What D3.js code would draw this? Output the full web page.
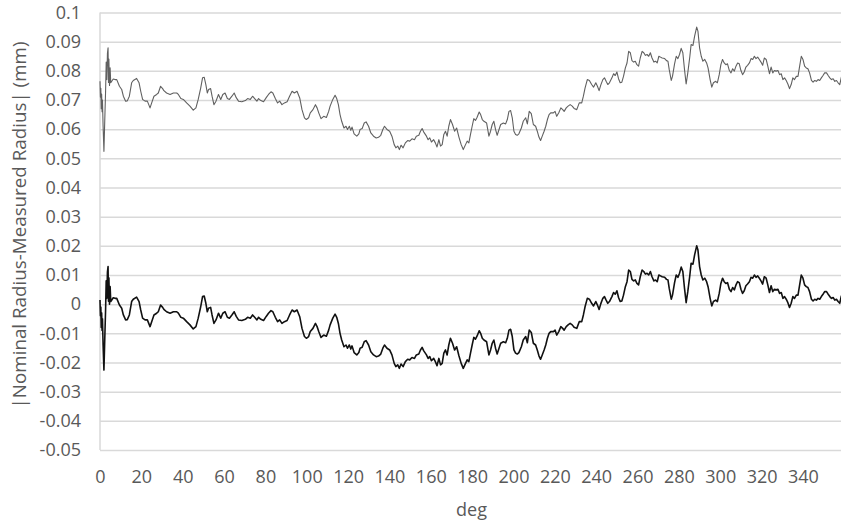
<!DOCTYPE html>
<html>
<head>
<meta charset="utf-8">
<script src="https://cdn.jsdelivr.net/npm/d3@7"></script>
<style>
  body { margin: 0; background: #fff; }
  svg { display: block; font-family: "Open Sans", sans-serif; }
</style>
</head>
<body>
<svg id="svg" width="841" height="527"></svg>
<script>
// angle (deg) for every sample, shared by both traces
let angles = [
  0, 0.2, 0.4, 0.6, 0.8, 1.0, 1.2, 1.5, 1.9, 2.3, 2.7, 3.0, 3.3, 3.6, 3.9, 4.1, 4.3, 4.6, 4.9, 5.2, 6.4, 7.3,
  8.1, 9.4, 10.5, 11.3, 12.4, 13.2, 14.2, 15.3, 16.1, 17.7, 18.9, 19.7, 20.6, 21.8, 22.9, 24.2, 25.0, 26.1, 27.4, 28.2,
  29.3, 30.3, 30.9, 32.2, 33.9, 35.5, 37.1, 37.9, 39.1, 40.3, 41.9, 43.5, 45.1, 46.4, 47.5, 48.7, 49.6, 50.4, 51.2, 51.9,
  52.5, 53.5, 54.2, 55.1, 56.1, 57.3, 58.4, 59.4, 60.5, 61.6, 62.6, 63.8, 64.9, 65.9, 67.0, 68.6, 70.3, 71.4, 72.7, 73.8,
  74.8, 75.9, 76.7, 77.8, 79.1, 80.4, 81.5, 82.7, 83.6, 84.8, 85.9, 86.9, 88.0, 89.2, 90.5, 91.7, 92.9, 94.0, 95.3, 96.6,
  97.7, 98.9, 99.8, 100.9, 101.7, 103.0, 104.2, 105.0, 105.8, 106.9, 108.2, 109.5, 110.6,
  111.3, 112.6, 113.7, 114.5, 115.3, 116.1, 116.9, 118.0, 119.0, 119.7, 120.6, 121.3, 121.9, 122.9, 124.2, 125.2, 125.8, 126.8, 127.8, 128.7,
  129.9, 131.0, 132.3, 133.6, 134.7, 135.8, 136.8, 137.6, 138.8, 140.1, 141.2, 142.3, 143.1, 144.0, 144.8, 145.6, 146.6, 147.7, 148.8, 149.8,
  150.9, 152.1, 153.0, 154.2, 155.0, 155.8, 156.6, 157.9, 158.7, 159.5, 160.3, 161.4, 162.2, 163.0, 163.9, 164.7, 165.5, 166.3, 167.1, 167.9,
  168.7, 169.5, 170.5, 171.5, 172.5, 173.6, 174.7, 175.7, 176.8, 177.6, 178.4, 179.2, 180.0, 180.8, 181.6, 182.4, 183.4, 184.1, 184.9, 185.7,
  187.0, 188.1, 188.9, 189.7, 190.5, 191.3, 192.1, 193.0, 193.8, 195.1, 196.2, 197.0, 197.8, 198.6, 199.4, 200.2, 201.0, 201.8, 202.6, 203.8,
  204.7, 205.9, 206.7, 207.6, 208.6, 209.6, 210.7, 211.5, 212.3, 213.1, 213.9, 214.8, 215.6, 216.4, 217.2, 218.0, 219.3, 220.1, 220.9, 221.9,
  222.9, 223.8, 224.5, 225.5, 226.4, 227.4, 228.4, 229.3, 230.6, 231.8,
  233.0, 233.8, 234.6, 235.7, 236.7, 237.8, 238.7, 239.8, 240.6, 241.4, 242.2, 243.2, 244.0, 244.8, 245.6, 246.4, 247.6, 248.4, 249.2, 250.0,
  250.8, 251.6, 252.4, 253.2, 254.1, 254.9, 255.7, 256.5, 257.3, 258.1, 258.9, 259.7, 260.5, 261.3, 262.2, 263.0, 263.8, 264.6, 265.4, 266.2,
  267.0, 267.9, 268.7, 269.5, 270.3, 271.1, 271.9, 273.1, 274.0, 274.7, 275.3, 276.3, 276.9, 277.9, 278.7, 279.5, 280.3, 281.1, 281.9, 282.7,
  283.5, 284.3, 285.3, 285.9, 286.8, 287.6, 288.6, 289.2, 290.0, 290.8, 291.6, 292.5, 293.4, 294.1, 295.1, 295.9, 296.7, 297.8, 298.6, 299.5,
  300.3, 301.1, 301.9, 302.7, 303.5, 304.4, 305.2, 306.0, 306.8, 307.6, 308.4, 309.2, 310.0, 310.8, 311.6, 312.4, 313.2, 314.1, 314.9, 315.7,
  316.5, 317.3, 318.1, 318.9, 319.7, 320.5, 321.3, 322.2, 323.0, 323.8, 324.6, 325.4, 326.2, 327.0, 327.9, 328.7, 329.5, 330.3, 331.1, 331.9,
  332.7, 333.5, 334.3, 335.1, 335.9, 336.8, 337.6, 338.4, 339.2, 340.0, 340.8, 341.6, 342.4, 343.2, 344.1, 344.9, 345.7, 346.5, 347.3, 348.1,
  348.9, 349.7, 350.5, 351.4, 352.2, 353.0, 353.8, 354.6, 355.4, 356.2, 357.0, 357.8, 358.6
];

// |Nominal - Measured| trace, upper (grey)
let upperValues = [
  0.0764, 0.071, 0.074, 0.067, 0.072, 0.066, 0.07, 0.061, 0.0524, 0.063, 0.073, 0.083, 0.077, 0.086, 0.0879, 0.076, 0.084, 0.075, 0.081, 0.0759, 0.0772, 0.077,
  0.077, 0.0747, 0.0736, 0.0713, 0.0696, 0.0697, 0.0713, 0.0759, 0.0767, 0.0774, 0.0759, 0.073, 0.0702, 0.0696, 0.0696, 0.0673, 0.069, 0.0713, 0.0719, 0.0724,
  0.0747, 0.0739, 0.0732, 0.0724, 0.0719, 0.0724, 0.0724, 0.0719, 0.0705, 0.0702, 0.069, 0.0679, 0.0665, 0.0673, 0.0702, 0.0741, 0.0776, 0.0778, 0.0753, 0.0724,
  0.0736, 0.0739, 0.0713, 0.0684, 0.0696, 0.0719, 0.0702, 0.0719, 0.0724, 0.0705, 0.0702, 0.0713, 0.0724, 0.0708, 0.0696, 0.0694, 0.0698, 0.0705, 0.0702, 0.0713,
  0.0705, 0.0696, 0.0705, 0.0698, 0.0694, 0.0708, 0.0719, 0.0728, 0.0724, 0.0705, 0.069, 0.0696, 0.0684, 0.069, 0.0694, 0.0713, 0.073, 0.0724, 0.073, 0.0707,
  0.0667, 0.0639, 0.0633, 0.0639, 0.0656, 0.0667, 0.0684, 0.0673, 0.0656, 0.0636, 0.0644, 0.064, 0.0661,
  0.0679, 0.0702, 0.0716, 0.0705, 0.0684, 0.065, 0.0627, 0.0604, 0.061, 0.0599, 0.061, 0.0596, 0.0607, 0.0584, 0.0576, 0.0584, 0.0599, 0.0602, 0.0621, 0.0625,
  0.061, 0.0587, 0.0576, 0.057, 0.0572, 0.0579, 0.0599, 0.061, 0.0599, 0.0593, 0.0576, 0.0547, 0.0536, 0.0542, 0.053, 0.0545, 0.0536, 0.0553, 0.0561, 0.0559,
  0.0567, 0.0564, 0.0576, 0.0579, 0.0593, 0.0602, 0.059, 0.0576, 0.0564, 0.057, 0.0556, 0.0564, 0.0553, 0.0539, 0.0564, 0.0542, 0.0547, 0.0582, 0.0593, 0.0576,
  0.061, 0.0633, 0.0616, 0.0593, 0.0604, 0.0573, 0.0547, 0.053, 0.0547, 0.0559, 0.0553, 0.0582, 0.061, 0.0636, 0.063, 0.0641, 0.0659, 0.065, 0.0633, 0.0627,
  0.0621, 0.0576, 0.0593, 0.0616, 0.0627, 0.0599, 0.0579, 0.0599, 0.0616, 0.0621, 0.0618, 0.0633, 0.0661, 0.0664, 0.0639, 0.0593, 0.0582, 0.0579, 0.0584, 0.0604,
  0.0627, 0.0639, 0.0618, 0.0661, 0.0653, 0.0616, 0.061, 0.0593, 0.0573, 0.0561, 0.0576, 0.0593, 0.061, 0.0633, 0.065, 0.0656, 0.0656, 0.0661, 0.0644, 0.0656,
  0.0673, 0.0667, 0.0661, 0.0673, 0.0679, 0.0684, 0.0679, 0.0671, 0.0667, 0.069,
  0.069, 0.0713, 0.0741, 0.077, 0.0767, 0.0753, 0.0744, 0.0759, 0.0747, 0.0732, 0.0751, 0.077, 0.0776, 0.0764, 0.0753, 0.0759, 0.0776, 0.079, 0.0784, 0.0796,
  0.0773, 0.0759, 0.0761, 0.0781, 0.081, 0.0827, 0.0867, 0.0862, 0.0835, 0.083, 0.0833, 0.0821, 0.0816, 0.0844, 0.0867, 0.0862, 0.0853, 0.0856, 0.085, 0.0862,
  0.0844, 0.083, 0.0833, 0.0827, 0.085, 0.0847, 0.0844, 0.0842, 0.0835, 0.0833, 0.0805, 0.0767, 0.0781, 0.0824, 0.085, 0.0842, 0.0856, 0.0877, 0.0862, 0.0805,
  0.0755, 0.0793, 0.085, 0.089, 0.0887, 0.0919, 0.095, 0.0936, 0.0879, 0.085, 0.0833, 0.0839, 0.0827, 0.081, 0.077, 0.0744, 0.0759, 0.0764, 0.0759, 0.0787,
  0.0821, 0.0839, 0.0827, 0.0821, 0.0824, 0.0801, 0.0793, 0.0807, 0.0799, 0.0816, 0.0827, 0.0824, 0.0801, 0.0787, 0.0796, 0.0813, 0.0819, 0.0827, 0.0842, 0.0839,
  0.085, 0.0842, 0.0847, 0.0839, 0.083, 0.0819, 0.0844, 0.0839, 0.0816, 0.079, 0.0813, 0.0793, 0.0801, 0.0799, 0.0801, 0.0787, 0.079, 0.077, 0.0776, 0.0767,
  0.0755, 0.0739, 0.0753, 0.0776, 0.077, 0.0781, 0.0781, 0.0816, 0.085, 0.0839, 0.0816, 0.081, 0.0807, 0.0793, 0.0767, 0.0761, 0.0767, 0.0764, 0.077, 0.0767,
  0.0776, 0.0784, 0.0793, 0.0793, 0.0784, 0.0776, 0.077, 0.0773, 0.0764, 0.0767, 0.0759, 0.0753, 0.0779
];

// Nominal - Measured trace, lower (black)
let lowerValues = [
  0.0014, -0.004, -0.001, -0.008, -0.003, -0.009, -0.005, -0.014, -0.0226, -0.012, -0.002, 0.008, 0.002, 0.011, 0.0129, 0.001, 0.009, 0.0, 0.006, 0.0009, 0.0022, 0.002,
  0.002, -0.0003, -0.0014, -0.0037, -0.0054, -0.0053, -0.0037, 0.0009, 0.0017, 0.0024, 0.0009, -0.002, -0.0048, -0.0054, -0.0054, -0.0077, -0.006, -0.0037, -0.0031, -0.0026,
  -0.0003, -0.0011, -0.0018, -0.0026, -0.0031, -0.0026, -0.0026, -0.0031, -0.0045, -0.0048, -0.006, -0.0071, -0.0085, -0.0077, -0.0048, -0.0009, 0.0026, 0.0028, 0.0003, -0.0026,
  -0.0014, -0.0011, -0.0037, -0.0066, -0.0054, -0.0031, -0.0048, -0.0031, -0.0026, -0.0045, -0.0048, -0.0037, -0.0026, -0.0042, -0.0054, -0.0056, -0.0052, -0.0045, -0.0048, -0.0037,
  -0.0045, -0.0054, -0.0045, -0.0052, -0.0056, -0.0042, -0.0031, -0.0022, -0.0026, -0.0045, -0.006, -0.0054, -0.0066, -0.006, -0.0056, -0.0037, -0.002, -0.0026, -0.002, -0.0043,
  -0.0083, -0.0111, -0.0117, -0.0111, -0.0094, -0.0083, -0.0066, -0.0077, -0.0094, -0.0114, -0.0106, -0.011, -0.0089,
  -0.0071, -0.0048, -0.0034, -0.0045, -0.0066, -0.01, -0.0123, -0.0146, -0.014, -0.0151, -0.014, -0.0154, -0.0143, -0.0166, -0.0174, -0.0166, -0.0151, -0.0148, -0.0129, -0.0125,
  -0.014, -0.0163, -0.0174, -0.018, -0.0178, -0.0171, -0.0151, -0.014, -0.0151, -0.0157, -0.0174, -0.0203, -0.0214, -0.0208, -0.022, -0.0205, -0.0214, -0.0197, -0.0189, -0.0191,
  -0.0183, -0.0186, -0.0174, -0.0171, -0.0157, -0.0148, -0.016, -0.0174, -0.0186, -0.018, -0.0194, -0.0186, -0.0197, -0.0211, -0.0186, -0.0208, -0.0203, -0.0168, -0.0157, -0.0174,
  -0.014, -0.0117, -0.0134, -0.0157, -0.0146, -0.0177, -0.0203, -0.022, -0.0203, -0.0191, -0.0197, -0.0168, -0.014, -0.0114, -0.012, -0.0109, -0.0091, -0.01, -0.0117, -0.0123,
  -0.0129, -0.0174, -0.0157, -0.0134, -0.0123, -0.0151, -0.0171, -0.0151, -0.0134, -0.0129, -0.0132, -0.0117, -0.0089, -0.0086, -0.0111, -0.0157, -0.0168, -0.0171, -0.0166, -0.0146,
  -0.0123, -0.0111, -0.0132, -0.0089, -0.0097, -0.0134, -0.014, -0.0157, -0.0177, -0.0189, -0.0174, -0.0157, -0.014, -0.0117, -0.01, -0.0094, -0.0094, -0.0089, -0.0106, -0.0094,
  -0.0077, -0.0083, -0.0089, -0.0077, -0.0071, -0.0066, -0.0071, -0.0079, -0.0083, -0.006,
  -0.006, -0.0037, -0.0009, 0.002, 0.0017, 0.0003, -0.0006, 0.0009, -0.0003, -0.0018, 0.0001, 0.002, 0.0026, 0.0014, 0.0003, 0.0009, 0.0026, 0.004, 0.0034, 0.0046,
  0.0023, 0.0009, 0.0011, 0.0031, 0.006, 0.0077, 0.0117, 0.0112, 0.0085, 0.008, 0.0083, 0.0071, 0.0066, 0.0094, 0.0117, 0.0112, 0.0103, 0.0106, 0.01, 0.0112,
  0.0094, 0.008, 0.0083, 0.0077, 0.01, 0.0097, 0.0094, 0.0092, 0.0085, 0.0083, 0.0055, 0.0017, 0.0031, 0.0074, 0.01, 0.0092, 0.0106, 0.0127, 0.0112, 0.0055,
  0.0005, 0.0043, 0.01, 0.014, 0.0137, 0.0169, 0.02, 0.0186, 0.0129, 0.01, 0.0083, 0.0089, 0.0077, 0.006, 0.002, -0.0006, 0.0009, 0.0014, 0.0009, 0.0037,
  0.0071, 0.0089, 0.0077, 0.0071, 0.0074, 0.0051, 0.0043, 0.0057, 0.0049, 0.0066, 0.0077, 0.0074, 0.0051, 0.0037, 0.0046, 0.0063, 0.0069, 0.0077, 0.0092, 0.0089,
  0.01, 0.0092, 0.0097, 0.0089, 0.008, 0.0069, 0.0094, 0.0089, 0.0066, 0.004, 0.0063, 0.0043, 0.0051, 0.0049, 0.0051, 0.0037, 0.004, 0.002, 0.0026, 0.0017,
  0.0005, -0.0011, 0.0003, 0.0026, 0.002, 0.0031, 0.0031, 0.0066, 0.01, 0.0089, 0.0066, 0.006, 0.0057, 0.0043, 0.0017, 0.0011, 0.0017, 0.0014, 0.002, 0.0017,
  0.0026, 0.0034, 0.0043, 0.0043, 0.0034, 0.0026, 0.002, 0.0023, 0.0014, 0.0017, 0.0009, 0.0003, 0.0029
];

let xTicks = [0, 20, 40, 60, 80, 100, 120, 140, 160, 180, 200, 220, 240, 260, 280, 300, 320, 340];
let yTicks = [0.1, 0.09, 0.08, 0.07, 0.06, 0.05, 0.04, 0.03, 0.02, 0.01, 0, -0.01, -0.02, -0.03, -0.04, -0.05];
let yTickLabels = ["0.1", "0.09", "0.08", "0.07", "0.06", "0.05", "0.04", "0.03", "0.02", "0.01", "0",
                   "-0.01", "-0.02", "-0.03", "-0.04", "-0.05"];

function graph() {
  let svg = d3.select("svg");
  let margin = {top: 12.5, right: 0, bottom: 77, left: 100};
  let width = 841 - margin.left - margin.right;
  let height = 527 - margin.top - margin.bottom;
  let textColor = "#595959";
  let gridColor = "#d9d9d9";

  let g = svg.append("g").attr("transform", "translate(" + margin.left + "," + margin.top + ")");

  let x = d3.scaleLinear().domain([0, 358.4]).range([0, width]);
  let y = d3.scaleLinear().domain([-0.05, 0.1]).range([height, 0]);

  // gridlines + y labels
  let yAxis = g.append("g")
    .call(d3.axisLeft(y)
      .tickValues(yTicks)
      .tickSize(-width)
      .tickPadding(19)
      .tickFormat((d, i) => yTickLabels[i]));
  yAxis.select(".domain").remove();
  yAxis.selectAll(".tick line")
    .attr("stroke", gridColor)
    .attr("stroke-width", 1.5);
  yAxis.selectAll(".tick text")
    .attr("fill", textColor)
    .style("font-size", "18px")
    .style("font-family", "Open Sans, sans-serif");

  // vertical axis line
  g.append("line")
    .attr("x1", 0).attr("x2", 0)
    .attr("y1", 0).attr("y2", height)
    .attr("stroke", gridColor)
    .attr("stroke-width", 1.5);

  let xAxis = g.append("g")
    .attr("transform", "translate(0," + height + ")")
    .call(d3.axisBottom(x).tickValues(xTicks).tickSize(0).tickPadding(20));
  xAxis.select(".domain").remove();
  xAxis.selectAll(".tick text")
    .attr("fill", textColor)
    .style("font-size", "18px")
    .style("font-family", "Open Sans, sans-serif");

  let upper = angles.map((a, i) => ({deg: a, value: upperValues[i]}));
  let lower = angles.map((a, i) => ({deg: a, value: lowerValues[i]}));

  let line = d3.line()
    .x(d => x(d.deg))
    .y(d => y(d.value));

  g.append("path")
   .datum(upper)
   .attr("fill", "none")
   .attr("stroke", "#606060")
   .attr("stroke-linejoin", "round")
   .attr("stroke-width", 1.1)
   .attr("d", line);

  g.append("path")
   .datum(lower)
   .attr("fill", "none")
   .attr("stroke", "#111111")
   .attr("stroke-linejoin", "round")
   .attr("stroke-width", 1.6)
   .attr("d", line);

  // axis titles
  svg.append("text")
    .attr("x", margin.left + x(358.4) / 2 + 1)
    .attr("y", 516)
    .attr("text-anchor", "middle")
    .attr("fill", textColor)
    .style("font-size", "18px")
    .text("deg");

  svg.append("text")
    .attr("transform", "translate(25.5,225) rotate(-90)")
    .attr("text-anchor", "middle")
    .attr("fill", textColor)
    .style("font-size", "18.8px")
    .text("|Nominal Radius-Measured Radius| (mm)");
}

graph();
</script>
</body>
</html>
